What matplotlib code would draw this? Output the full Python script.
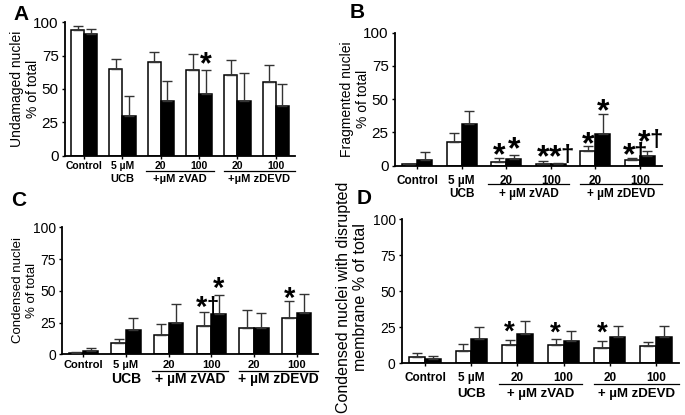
import numpy as np
import matplotlib
matplotlib.use("Agg")
import matplotlib.pyplot as plt

plt.rcParams["font.family"] = ["Liberation Sans", "DejaVu Sans"]

groups = ["Control", "5 µM", "20", "100", "20", "100"]

# significance marks: (group, bar, with dagger, height of the star)
# panel A - undamaged nuclei
a_white = [94, 65, 70, 64, 60.5, 55.5]
a_white_err = [3.5, 7.5, 8, 12.5, 11, 12.5]
a_black = [91, 30, 41, 46, 41, 37]
a_black_err = [4, 15, 15, 18, 21, 17]
a_marks = [(3, "b", False, 72)]

# panel B - fragmented nuclei
b_white = [1, 18, 3, 1, 11, 4]
b_white_err = [0.5, 6.5, 3, 2.2, 3.8, 2]
b_black = [4.5, 31, 5, 1.2, 24, 7]
b_black_err = [5.5, 10.5, 3, 1.2, 15, 4.2]
b_marks = [(2, "w", False, 11.8), (2, "b", False, 16.3), (3, "w", False, 10.3),
           (3, "b", True, 10.3), (4, "w", False, 20), (4, "b", False, 45),
           (5, "w", True, 11.8), (5, "b", True, 21.5)]

# panel C - condensed nuclei
c_white = [0.8, 9, 15, 22.5, 20.5, 28.5]
c_white_err = [0.7, 2.8, 8.6, 11, 14, 13.4]
c_black = [2.6, 19.4, 24.7, 32, 21, 32.8]
c_black_err = [2.6, 9.2, 14.7, 14.7, 11.3, 14.4]
c_marks = [(3, "w", True, 40.4), (3, "b", False, 55.4), (5, "w", False, 48)]

# panel D - condensed nuclei with disrupted membrane
d_white = [4.5, 8.8, 12.7, 12.5, 10.4, 12]
d_white_err = [2.4, 4.6, 3.5, 4.4, 5.1, 2.5]
d_black = [3.2, 16.6, 20.6, 15.5, 18.5, 18.5]
d_black_err = [2.1, 8.6, 9, 7.1, 7.1, 7.1]
d_marks = [(2, "w", False, 24.8), (3, "w", False, 24.5), (4, "w", False, 24.3)]

W, H = 685, 415
fig = plt.figure(figsize=(W / 100, H / 100), dpi=100)


def make_panel(box, white, white_err, black, black_err, marks, ylabel, ylab_xy,
               ylab_size, tick_size, letter, letter_xy, row1_size, row2_size, plus,
               row1_pad, line_off, row2_off, star_size):
    left, right, top, bottom = box
    ax = fig.add_axes([left / W, 1 - bottom / H, (right - left) / W, (bottom - top) / H])
    x = np.arange(len(groups))
    w = 0.34
    ax.bar(x - w / 2, white, w, color="white", edgecolor="black", linewidth=1.1, zorder=2)
    ax.bar(x + w / 2, black, w, color="black", edgecolor="black", linewidth=1.1, zorder=2)
    ax.errorbar(x - w / 2, white, yerr=[np.zeros(len(x)), white_err], fmt="none",
                ecolor="#333333", elinewidth=1, capsize=3.5, capthick=1, zorder=3)
    ax.errorbar(x + w / 2, black, yerr=[np.zeros(len(x)), black_err], fmt="none",
                ecolor="#333333", elinewidth=1, capsize=3.5, capthick=1, zorder=3)
    for g, s, dagger, yy in marks:
        xx = g - w / 2 if s == "w" else g + w / 2
        dx = -2 if dagger else 0
        ax.annotate("*", (xx, yy), xytext=(dx, -0.45 * star_size), textcoords="offset points",
                    ha="center", va="baseline", fontsize=star_size, fontweight="bold",
                    annotation_clip=False, zorder=4)
        if dagger:
            ax.annotate("†", (xx, yy), xytext=(dx + 8, -0.3 * star_size),
                        textcoords="offset points", ha="center", va="baseline",
                        fontsize=star_size * 0.75, fontweight="bold",
                        annotation_clip=False, zorder=4)

    ax.set_xlim(-0.5, 5.5)
    ax.set_ylim(0, 100)
    ax.set_yticks([0, 25, 50, 75, 100])
    ax.tick_params(axis="y", length=2.5, width=1, pad=2, labelsize=tick_size)
    ax.set_xticks(x)
    ax.set_xticklabels(groups, fontsize=row1_size, fontweight="bold")
    ax.tick_params(axis="x", length=2.5, width=1, pad=row1_pad)
    for side in ["top", "right"]:
        ax.spines[side].set_visible(False)
    for side in ["left", "bottom"]:
        ax.spines[side].set_linewidth(1.3)

    hpx = bottom - top
    ax.text(1, -row2_off / hpx, "UCB", transform=ax.get_xaxis_transform(),
            ha="center", va="center", fontsize=row2_size, fontweight="bold")
    for (x0, x1), name in [((1.6, 3.4), "zVAD"), ((3.65, 5.5), "zDEVD")]:
        ax.plot([x0, x1], [-line_off / hpx] * 2, color="black", lw=0.9,
                transform=ax.get_xaxis_transform(), clip_on=False)
        ax.text((x0 + x1) / 2, -row2_off / hpx, plus + "µM " + name,
                transform=ax.get_xaxis_transform(), ha="center", va="center",
                fontsize=row2_size, fontweight="bold")

    fig.text(ylab_xy[0] / W, 1 - ylab_xy[1] / H, ylabel, rotation=90, ha="center",
             va="center", multialignment="center", fontsize=ylab_size)
    fig.text(letter_xy[0] / W, 1 - letter_xy[1] / H, letter, ha="center", va="center",
             fontsize=15, fontweight="bold")
    return ax


make_panel((65, 295, 22.3, 155.7), a_white, a_white_err, a_black, a_black_err, a_marks,
           "Undamaged nuclei\n% of total", (25, 89), 10, 11, "A", (21, 15),
           7.5, 8, "+", 1.5, 15, 23, 22)
make_panel((395, 662, 32.7, 165.7), b_white, b_white_err, b_black, b_black_err, b_marks,
           "Fragmented nuclei\n% of total", (355, 99), 10, 11, "B", (357, 13),
           8.5, 8.5, "+ ", 4, 18, 28, 23)
make_panel((62, 318, 227.3, 354.3), c_white, c_white_err, c_black, c_black_err, c_marks,
           "Condensed nuclei\n% of total", (25, 290), 9.5, 10, "C", (19, 200),
           8, 10, "+ ", 1.5, 17, 25, 21)
make_panel((402, 679, 219, 363.3), d_white, d_white_err, d_black, d_black_err, d_marks,
           "Condensed nuclei with disrupted\nmembrane % of total", (352, 297), 11.5, 10, "D", (364, 198),
           8.5, 9.5, "+ ", 4, 21, 31, 20)

fig.savefig("out.png", dpi=100)
